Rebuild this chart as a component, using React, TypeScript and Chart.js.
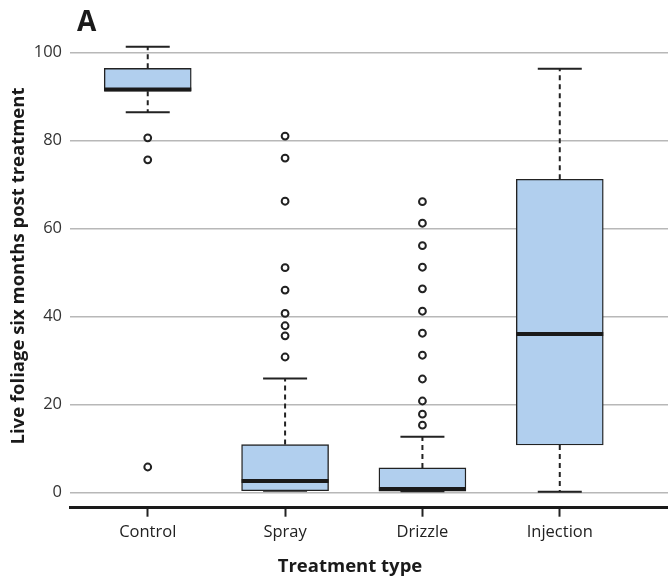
import React, { useEffect, useRef } from "react";
import { Chart, registerables } from "chart.js";

Chart.register(...registerables);

const categories = ["Control", "Spray", "Drizzle", "Injection"];
const whiskerLow = [86.4, 0.4, 0.3, 0.2];
const q1 = [91.2, 0.4, 0.3, 10.8];
const median = [91.6, 2.6, 0.8, 36.0];
const q3 = [96.4, 10.9, 5.6, 71.2];
const whiskerHigh = [101.3, 25.9, 12.7, 96.3];
const outliersControl = [80.6, 75.6, 5.8];
const outliersSpray = [81.0, 76.0, 66.2, 51.1, 46.0, 40.7, 37.9, 35.6, 30.8];
const outliersDrizzle = [66.1, 61.2, 56.1, 51.2, 46.3, 41.2, 36.2, 31.2, 25.8, 20.8, 17.8, 15.3];
const outliersInjection: number[] = [];
const yTicks = [0, 20, 40, 60, 80, 100];

const panelLabel = "A";
const xTitle = "Treatment type";
const yTitle = "Live foliage six months post treatment";

const FONT = "'Open Sans', 'DejaVu Sans', sans-serif";
const INK = "#222222";

const boxPlugin = {
  id: "boxExtras",
  beforeDatasetsDraw(chart: any) {
    const { ctx, scales } = chart;
    const x = scales.x;
    const y = scales.y;
    ctx.save();
    ctx.strokeStyle = INK;
    categories.forEach((_, i) => {
      const px = x.getPixelForValue(i + 1);
      const yQ1 = y.getPixelForValue(q1[i]);
      const yQ3 = y.getPixelForValue(q3[i]);
      const yLo = y.getPixelForValue(whiskerLow[i]);
      const yHi = y.getPixelForValue(whiskerHigh[i]);
      ctx.lineWidth = 2;
      ctx.setLineDash([5, 4]);
      ctx.beginPath();
      ctx.moveTo(px, yQ3);
      ctx.lineTo(px, yHi);
      ctx.moveTo(px, yQ1);
      ctx.lineTo(px, yLo);
      ctx.stroke();
      ctx.setLineDash([]);
      ctx.beginPath();
      ctx.moveTo(px - 22, yHi);
      ctx.lineTo(px + 22, yHi);
      ctx.moveTo(px - 22, yLo);
      ctx.lineTo(px + 22, yLo);
      ctx.stroke();
    });
    ctx.restore();
  },
  afterDatasetsDraw(chart: any) {
    const { ctx, scales } = chart;
    const x = scales.x;
    const y = scales.y;
    ctx.save();
    ctx.strokeStyle = "#1a1a1a";
    ctx.lineWidth = 4;
    categories.forEach((_, i) => {
      const px = x.getPixelForValue(i + 1);
      const ym = y.getPixelForValue(median[i]);
      ctx.beginPath();
      ctx.moveTo(px - 43.5, ym);
      ctx.lineTo(px + 43.5, ym);
      ctx.stroke();
    });
    ctx.restore();
  },
  afterDraw(chart: any) {
    const { ctx } = chart;
    ctx.save();
    ctx.fillStyle = "#1a1a1a";
    ctx.font = `bold 28px ${FONT}`;
    ctx.textAlign = "left";
    ctx.textBaseline = "alphabetic";
    ctx.fillText(panelLabel, 77, 31);

    ctx.font = `bold 18.5px ${FONT}`;
    ctx.textAlign = "center";
    ctx.fillText(xTitle, 350, 572);

    ctx.translate(24, 266);
    ctx.rotate(-Math.PI / 2);
    ctx.fillText(yTitle, 0, 0);
    ctx.restore();
  },
};

export default function App() {
  const ref = useRef<HTMLCanvasElement | null>(null);

  useEffect(() => {
    if (!ref.current) return;
    const outlierPoints: { x: number; y: number }[] = [];
    [outliersControl, outliersSpray, outliersDrizzle, outliersInjection].forEach((arr, i) => {
      arr.forEach((v) => outlierPoints.push({ x: i + 1, y: v }));
    });

    const chart = new Chart(ref.current, {
      type: "bar",
      data: {
        datasets: [
          {
            type: "bar",
            label: "Box",
            data: categories.map((_, i) => ({ x: i + 1, y: [q1[i], q3[i]] })) as any,
            backgroundColor: "#b1cfee",
            borderColor: INK,
            borderWidth: 1.4,
            borderSkipped: false,
            barThickness: 87,
          } as any,
          {
            type: "scatter",
            label: "Outliers",
            data: outlierPoints,
            pointStyle: "circle",
            pointRadius: 3.4,
            pointBorderWidth: 2,
            pointBorderColor: INK,
            pointBackgroundColor: "#ffffff",
            showLine: false,
          } as any,
        ],
      },
      options: {
        animation: false,
        responsive: true,
        maintainAspectRatio: false,
        layout: { autoPadding: false, padding: { top: 39.3, right: 0, left: 0, bottom: 0 } },
        plugins: { legend: { display: false }, tooltip: { enabled: false }, title: { display: false } },
        scales: {
          x: {
            type: "linear",
            min: 0.434,
            max: 4.788,
            offset: false,
            afterBuildTicks: (s: any) => {
              s.ticks = categories.map((_, i) => ({ value: i + 1 }));
            },
            afterFit: (s: any) => {
              s.height = 72.3;
            },
            ticks: {
              callback: (v: any) => categories[Number(v) - 1] ?? "",
              color: INK,
              font: { family: FONT, size: 16.5 },
              padding: 6,
              autoSkip: false,
              maxRotation: 0,
            },
            grid: {
              offset: false,
              drawOnChartArea: false,
              drawTicks: true,
              tickLength: 9,
              tickColor: INK,
              tickWidth: 2,
            },
            border: { display: true, color: "#1a1a1a", width: 3 },
          },
          y: {
            type: "linear",
            min: -3.45,
            max: 103,
            afterBuildTicks: (s: any) => {
              s.ticks = yTicks.map((v) => ({ value: v }));
            },
            afterFit: (s: any) => {
              s.width = 70;
            },
            ticks: {
              color: "#333333",
              font: { family: FONT, size: 16.5 },
              padding: 8,
            },
            grid: { color: "#b8b8b8", lineWidth: 1.5, drawTicks: false },
            border: { display: false },
          },
        },
      } as any,
      plugins: [boxPlugin],
    });
    return () => chart.destroy();
  }, []);

  return (
    <div style={{ position: "absolute", left: 0, top: 0, width: 668, height: 580, background: "#fff" }}>
      <canvas ref={ref} />
    </div>
  );
}
